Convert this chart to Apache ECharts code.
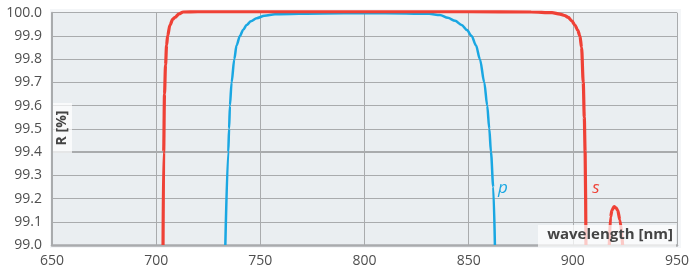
<!DOCTYPE html>
<html>
<head>
<meta charset="utf-8">
<script src="https://cdn.jsdelivr.net/npm/echarts@6/dist/echarts.min.js"></script>
<style>html,body{margin:0;padding:0;background:#fff;}#c{width:696px;height:273px;}</style>
</head>
<body>
<div id="c"></div>
<script>
// x tick labels (wavelength, nm)
const xTicks = [650, 700, 750, 800, 850, 900, 950];
// y tick labels (R, %)
const yTicks = [99.0, 99.1, 99.2, 99.3, 99.4, 99.5, 99.6, 99.7, 99.8, 99.9, 100.0];

// s-polarisation: [wavelength, R]
const sWavelength = [703.3, 703.6, 704.0, 704.5, 705.0, 705.5, 706.6, 708.0, 709.0, 711.0, 713.0, 720, 760, 800, 850, 880, 890, 893.8, 896.0, 897.8, 899.5, 901.0, 902.3, 903.4, 904.2, 905.0, 905.5, 905.9, 906.3, null, 917.5, 918.1, 918.8, 919.8, 920.7, 921.5, 922.6, 923.9];
const sR = [99.0, 99.4, 99.65, 99.775, 99.86, 99.90, 99.947, 99.972, 99.98, 99.995, 100.003, 100.004, 100.004, 100.004, 100.004, 100.003, 100.0, 99.994, 99.988, 99.98, 99.965, 99.947, 99.925, 99.90, 99.85, 99.70, 99.55, 99.40, 99.0, null, 99.0, 99.12, 99.15, 99.165, 99.16, 99.15, 99.108, 99.0];

// p-polarisation: [wavelength, R]
const pWavelength = [733.2, 734.6, 735.0, 735.4, 736.2, 737.5, 738.6, 740.2, 741.8, 743.4, 745.5, 748.2, 752, 757, 780, 800, 820, 831, 836.2, 840, 843.5, 846.6, 849.2, 851.4, 853.5, 855.4, 857.5, 858.9, 859.9, 860.7, 861.8, 862.6];
const pR = [99.0, 99.40, 99.50, 99.60, 99.70, 99.80, 99.86, 99.90, 99.927, 99.947, 99.963, 99.976, 99.987, 99.993, 99.997, 99.998, 99.997, 99.995, 99.99, 99.978, 99.965, 99.947, 99.925, 99.90, 99.86, 99.80, 99.70, 99.60, 99.50, 99.40, 99.25, 99.0];

const sData = sWavelength.map((w, i) => w === null ? [null, null] : [w, sR[i]]);
const pData = pWavelength.map((w, i) => [w, pR[i]]);

const chart = echarts.init(document.getElementById('c'), null, {renderer: 'canvas'});
const FONT = 'Open Sans';
const LABEL = '#4f4f4f';
const GRID = '#a9abad';

chart.setOption({
  animation: false,
  backgroundColor: '#ffffff',
  grid: {left: 52, right: 19, top: 12.7, bottom: 28, show: true, backgroundColor: '#eaeef1', borderWidth: 0},
  xAxis: {
    type: 'value', min: xTicks[0], max: xTicks[xTicks.length - 1], interval: 50,
    axisLine: {show: true, lineStyle: {color: GRID, width: 2.5}},
    axisTick: {show: false},
    splitLine: {show: true, lineStyle: {color: GRID, width: 1}},
    axisLabel: {color: LABEL, fontSize: 14, fontFamily: FONT, margin: 9}
  },
  yAxis: {
    type: 'value', min: yTicks[0], max: yTicks[yTicks.length - 1], interval: 0.1,
    axisLine: {show: true, lineStyle: {color: GRID, width: 2}},
    axisTick: {show: false},
    splitLine: {show: true, lineStyle: {color: GRID, width: 1}},
    axisLabel: {color: LABEL, fontSize: 14, fontFamily: FONT, margin: 10, formatter: v => v.toFixed(1)}
  },
  graphic: [
    {type: 'rect', z: -10, shape: {x: 50, y: 9, width: 631, height: 239}, style: {fill: '#f4f6f8'}},
    {type: 'rect', z: 50, shape: {x: 53, y: 103, width: 19, height: 50}, style: {fill: 'rgba(255,255,255,0.7)'}},
    {type: 'text', z: 51, x: 62, y: 128, rotation: Math.PI / 2,
      style: {text: 'R [%]', fill: '#444', font: 'bold 14px "Open Sans"', textAlign: 'center', textVerticalAlign: 'middle'}},
    {type: 'rect', z: 50, shape: {x: 538, y: 225, width: 138, height: 22}, style: {fill: 'rgba(255,255,255,0.72)'}},
    {type: 'text', z: 51, x: 673, y: 235,
      style: {text: 'wavelength [nm]', fill: '#444', font: 'bold 15px "Open Sans"', textAlign: 'right', textVerticalAlign: 'middle'}},
    {type: 'text', z: 51, x: 503, y: 188,
      style: {text: 'p', fill: '#1aa7e2', font: 'italic 17px "Open Sans"', textAlign: 'center', textVerticalAlign: 'middle'}},
    {type: 'text', z: 51, x: 596, y: 188,
      style: {text: 's', fill: '#ef4136', font: 'italic 17px "Open Sans"', textAlign: 'center', textVerticalAlign: 'middle'}}
  ],
  series: [
    {
      type: 'line', name: 'p', data: pData, showSymbol: false, symbol: 'none', clip: false, z: 3,
      lineStyle: {color: '#1aa7e2', width: 2.5}, smooth: 0.3, smoothMonotone: 'x',
      markLine: {silent: true, symbol: 'none', label: {show: false},
        lineStyle: {color: GRID, width: 2, type: 'solid'}, data: [{yAxis: 99.4}], z: 1}
    },
    {
      type: 'line', name: 's', data: sData, showSymbol: false, symbol: 'none', clip: false, z: 4,
      connectNulls: false, lineStyle: {color: '#ef4136', width: 3.2}, smooth: 0.3, smoothMonotone: 'x'
    }
  ]
});
</script>
</body>
</html>
